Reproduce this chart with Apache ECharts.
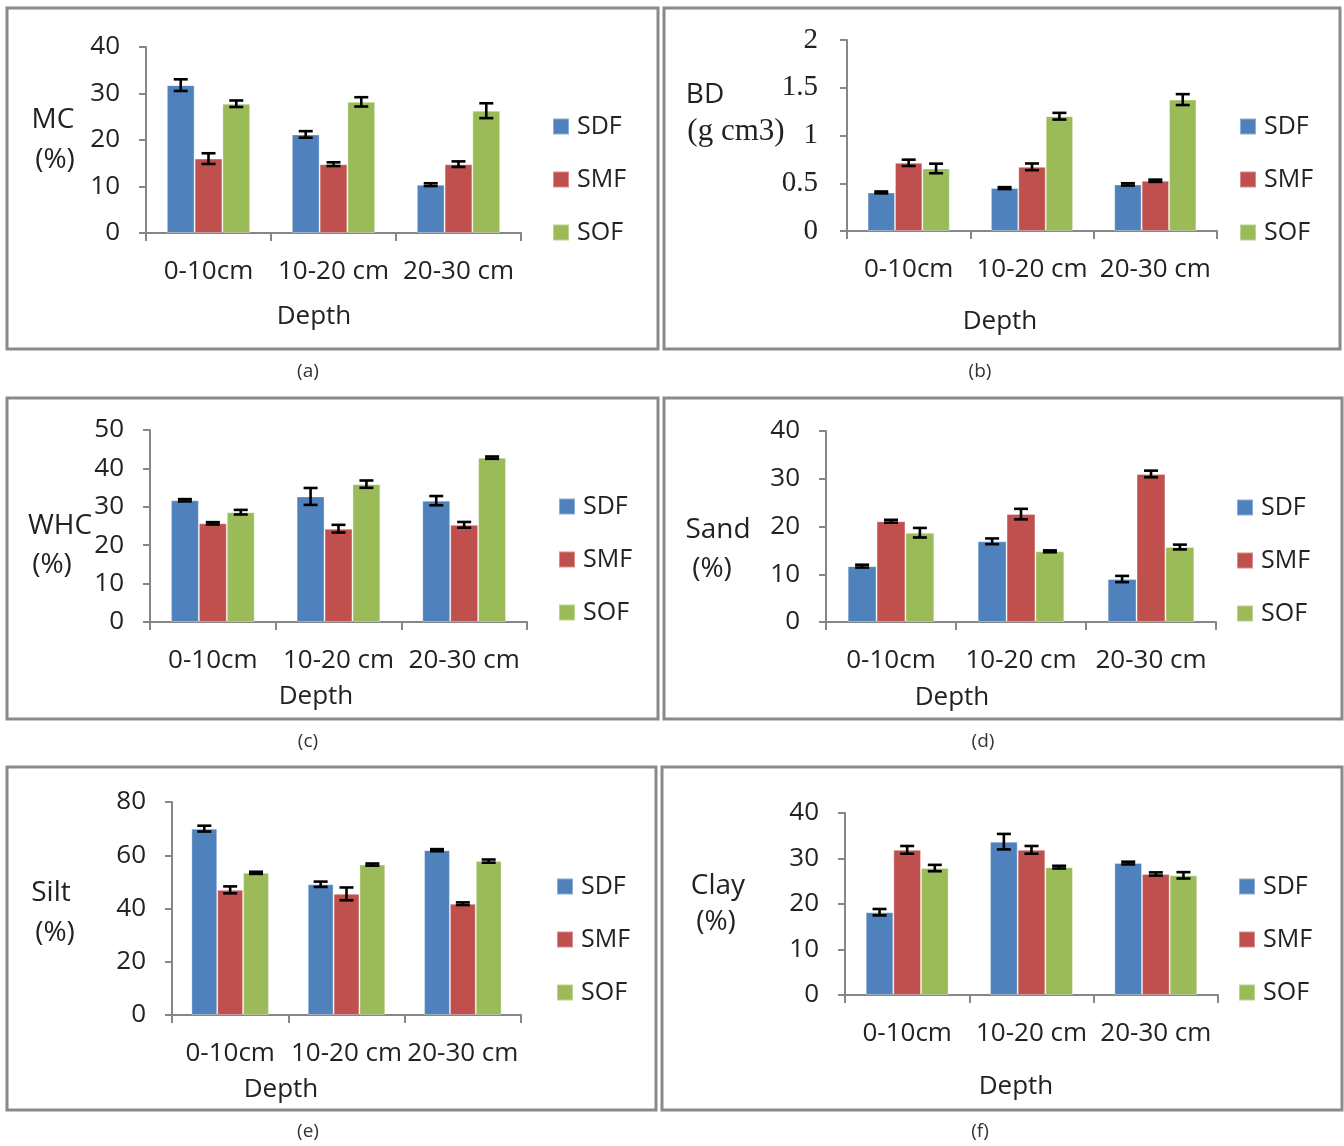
<!DOCTYPE html>
<html>
<head>
<meta charset="utf-8">
<script src="https://cdn.jsdelivr.net/npm/echarts@6/dist/echarts.min.js"></script>
<style>
html,body{margin:0;padding:0;background:#fff;}
#chart{width:1344px;height:1146px;}
</style>
</head>
<body>
<div id="chart"></div>
<script>
// ---- data ----
const categories = ['0-10cm', '10-20 cm', '20-30 cm'];
const seriesNames = ['SDF', 'SMF', 'SOF'];

// means [SDF, SMF, SOF] x [0-10, 10-20, 20-30]
const mcMean   = [[31.8, 21.2, 10.4], [16.0, 14.8, 14.8], [27.8, 28.2, 26.3]];
const mcErr    = [[1.25, 0.7, 0.3], [1.15, 0.4, 0.6], [0.7, 1.0, 1.6]];
const bdMean   = [[0.404, 0.449, 0.488], [0.714, 0.672, 0.526], [0.655, 1.202, 1.376]];
const bdErr    = [[0.01, 0.01, 0.012], [0.033, 0.035, 0.012], [0.05, 0.035, 0.057]];
const whcMean  = [[31.7, 32.7, 31.6], [25.7, 24.3, 25.3], [28.6, 35.9, 42.8]];
const whcErr   = [[0.3, 2.2, 1.2], [0.3, 1.0, 0.75], [0.6, 0.95, 0.3]];
const sandMean = [[11.7, 16.9, 9.0], [21.1, 22.6, 31.0], [18.7, 14.8, 15.7]];
const sandErr  = [[0.3, 0.6, 0.65], [0.3, 1.1, 0.7], [1.0, 0.2, 0.5]];
const siltMean = [[70.0, 49.1, 61.9], [47.0, 45.5, 41.8], [53.4, 56.5, 57.8]];
const siltErr  = [[1.1, 1.0, 0.4], [1.3, 2.4, 0.5], [0.4, 0.4, 0.6]];
const clayMean = [[18.2, 33.7, 29.0], [31.9, 31.9, 26.6], [27.9, 28.1, 26.3]];
const clayErr  = [[0.7, 1.7, 0.3], [0.85, 0.85, 0.35], [0.7, 0.3, 0.7]];

const yMaxes    = [40, 2, 50, 40, 80, 40];
const yIntervals = [10, 0.5, 10, 10, 20, 10];
const captions  = ['(a)', '(b)', '(c)', '(d)', '(e)', '(f)'];

// ---- layout / style ----
const colors = ['#4F81BD', '#C0504D', '#9BBB59'];
const FONT = 'Open Sans';
const TXT = '#222';
const AXIS = '#868686';

const panels = [
  { mean: mcMean,   err: mcErr,   grid: {left: 146, top: 47,  width: 375, height: 186}, box: [7, 8, 651, 341],
    legend: {left: 552, top: 114}, depth: [314, 317], cap: [308, 372],
    names: [{t: 'MC', x: 53, y: 120}, {t: '(%)', x: 55, y: 160}] },
  { mean: bdMean,   err: bdErr,   grid: {left: 847, top: 40,  width: 370, height: 191}, box: [664, 8, 676, 341],
    legend: {left: 1239, top: 114}, depth: [1000, 322], cap: [980, 372], serifY: true,
    names: [{t: 'BD', x: 705, y: 95}, {t: '(g cm3)', x: 736, y: 132, serif: true}] },
  { mean: whcMean,  err: whcErr,  grid: {left: 150, top: 430, width: 377, height: 192}, box: [7, 398, 651, 321],
    legend: {left: 558, top: 494}, depth: [316, 697], cap: [308, 742],
    names: [{t: 'WHC', x: 60, y: 526}, {t: '(%)', x: 52, y: 565}] },
  { mean: sandMean, err: sandErr, grid: {left: 826, top: 431, width: 390, height: 191}, box: [664, 398, 678, 321],
    legend: {left: 1236, top: 495}, depth: [952, 698], cap: [983, 742],
    names: [{t: 'Sand', x: 718, y: 530}, {t: '(%)', x: 712, y: 569}] },
  { mean: siltMean, err: siltErr, grid: {left: 172, top: 802, width: 349, height: 213}, box: [7, 767, 649, 343],
    legend: {left: 556, top: 874}, depth: [281, 1090], cap: [308, 1132],
    names: [{t: 'Silt', x: 51, y: 893}, {t: '(%)', x: 55, y: 933}] },
  { mean: clayMean, err: clayErr, grid: {left: 845, top: 813, width: 373, height: 182}, box: [662, 767, 680, 343],
    legend: {left: 1238, top: 874}, depth: [1016, 1087], cap: [980, 1132],
    names: [{t: 'Clay', x: 718, y: 886}, {t: '(%)', x: 716, y: 922}] }
];

const GAP_RATIO = 1 / 3;

const grids = [], xAxes = [], yAxes = [], series = [], legends = [], graphics = [];

panels.forEach((p, i) => {
  grids.push(Object.assign({containLabel: false}, p.grid));
  xAxes.push({
    type: 'category', gridIndex: i, data: categories,
    axisLine: {show: true, lineStyle: {color: AXIS, width: 2}},
    axisTick: {show: true, length: 8, lineStyle: {color: AXIS, width: 2}},
    axisLabel: {color: TXT, fontFamily: FONT, fontSize: 26, margin: 26, interval: 0}
  });
  yAxes.push({
    type: 'value', gridIndex: i, min: 0, max: yMaxes[i], interval: yIntervals[i],
    axisLine: {show: true, lineStyle: {color: AXIS, width: 2}},
    axisTick: {show: true, length: 7, lineStyle: {color: AXIS, width: 2}},
    splitLine: {show: false},
    axisLabel: {color: TXT, fontFamily: p.serifY ? 'Liberation Serif' : FONT,
                fontSize: p.serifY ? 29 : 26, margin: p.serifY ? 29 : 26}
  });
  seriesNames.forEach((name, s) => {
    series.push({
      type: 'bar', name: name, xAxisIndex: i, yAxisIndex: i,
      data: p.mean[s], barGap: '0%', barCategoryGap: (GAP_RATIO * 100) + '%',
      itemStyle: {color: colors[s], borderColor: 'rgba(255,255,255,0.35)', borderWidth: 1},
      emphasis: {disabled: true}, z: 2
    });
  });
  const errData = [];
  seriesNames.forEach((name, s) => {
    p.mean[s].forEach((v, c) => errData.push([c, v, p.err[s][c], s]));
  });
  series.push({
    type: 'custom', name: 'err' + i, xAxisIndex: i, yAxisIndex: i,
    data: errData, encode: {x: 0, y: 1}, z: 10, silent: true,
    renderItem: function (params, api) {
      const c = api.value(0), v = api.value(1), e = api.value(2), s = api.value(3);
      const band = api.size([1, 0])[0];
      const w = band * (1 - GAP_RATIO) / 3;
      const cx = api.coord([c, v])[0] + (s - 1) * w;
      const yt = api.coord([c, v + e])[1];
      const yb = api.coord([c, v - e])[1];
      const hw = 7;
      const st = {stroke: '#000', lineWidth: 2.6};
      return {
        type: 'group',
        children: [
          {type: 'line', shape: {x1: cx, y1: yt, x2: cx, y2: yb}, style: st},
          {type: 'line', shape: {x1: cx - hw, y1: yt, x2: cx + hw, y2: yt}, style: st},
          {type: 'line', shape: {x1: cx - hw, y1: yb, x2: cx + hw, y2: yb}, style: st}
        ]
      };
    }
  });
  legends.push({
    orient: 'vertical', left: p.legend.left, top: p.legend.top, padding: 0,
    data: seriesNames, icon: 'rect', itemWidth: 16, itemHeight: 16, itemGap: 28,
    selectedMode: false,
    textStyle: {color: TXT, fontFamily: FONT, fontSize: 25, lineHeight: 25, padding: [0, 0, 0, 3]}
  });
  graphics.push({
    type: 'rect', shape: {x: p.box[0], y: p.box[1], width: p.box[2], height: p.box[3]},
    style: {fill: 'none', stroke: '#8a8a8a', lineWidth: 3}, silent: true
  });
  p.names.forEach(n => {
    graphics.push({
      type: 'text', x: n.x, y: n.y,
      style: {text: n.t, fill: TXT, fontFamily: n.serif ? 'Liberation Serif' : FONT,
              fontSize: n.serif ? 31 : 28, align: 'center', verticalAlign: 'middle'}
    });
  });
  graphics.push({
    type: 'text', x: p.depth[0], y: p.depth[1],
    style: {text: 'Depth', fill: TXT, fontFamily: FONT, fontSize: 26, align: 'center', verticalAlign: 'middle'}
  });
  graphics.push({
    type: 'text', x: p.cap[0], y: p.cap[1],
    style: {text: captions[i], fill: '#333', fontFamily: FONT, fontSize: 19, align: 'center', verticalAlign: 'middle'}
  });
});

const chart = echarts.init(document.getElementById('chart'), null, {renderer: 'canvas'});
chart.setOption({
  animation: false,
  backgroundColor: '#fff',
  grid: grids, xAxis: xAxes, yAxis: yAxes, legend: legends,
  series: series, graphic: graphics
});
</script>
</body>
</html>
